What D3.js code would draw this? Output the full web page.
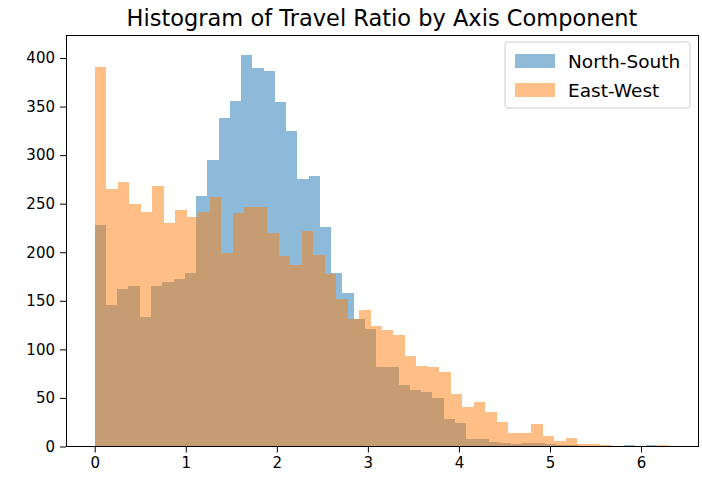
<!DOCTYPE html>
<html>
<head>
<meta charset="utf-8">
<script src="https://cdn.jsdelivr.net/npm/d3@7"></script>
<style>
  html, body { margin: 0; padding: 0; background: #ffffff; }
  svg { display: block; }
  text { font-family: "DejaVu Sans", sans-serif; fill: #000; }
</style>
</head>
<body>
<svg id="chart" width="702" height="477"></svg>
<script>
// Counts per bin (50 equal-width bins from 0 to each series' maximum)
const northSouthCounts = [
  228, 146, 162, 165, 133, 165, 169, 172, 179, 258,
  295, 338, 356, 403, 390, 387, 355, 325, 275, 279,
  226, 179, 158, 131, 121, 82, 82, 63, 58, 56,
  50, 28, 24, 8, 8, 5, 4, 3, 4, 4,
  3, 2, 2, 1, 1, 0, 0, 2, 0, 2
];
const eastWestCounts = [
  391, 265, 272, 250, 241, 268, 230, 243, 236, 241,
  257, 199, 240, 247, 247, 220, 196, 187, 222, 197,
  178, 152, 131, 141, 124, 120, 115, 93, 83, 82,
  77, 54, 41, 46, 36, 25, 14, 14, 23, 11,
  6, 9, 3, 3, 2, 1, 0, 0, 0, 2
];
const northSouthRange = [0, 6.18];
const eastWestRange = [0, 6.31];
const seriesNames = ["North-South", "East-West"];
const seriesColors = ["#1f77b4", "#ff7f0e"];
const xTicks = [0, 1, 2, 3, 4, 5, 6];
const yTicks = [0, 50, 100, 150, 200, 250, 300, 350, 400];
const titleText = "Histogram of Travel Ratio by Axis Component";

const svg = d3.select("#chart");
const plot = { left: 66, right: 698, top: 35.5, bottom: 446.5 };

// x limits with 5% margins around the data span, y from 0 to 5% above the tallest bar
const dataMax = Math.max(northSouthRange[1], eastWestRange[1]);
const xPad = 0.05 * dataMax;
const x = d3.scaleLinear().domain([-xPad, dataMax + xPad]).range([plot.left, plot.right]);
const yMax = 1.05 * d3.max([...northSouthCounts, ...eastWestCounts]);
const y = d3.scaleLinear().domain([0, yMax]).range([plot.bottom, plot.top]);

function toBins(counts, range) {
  const w = (range[1] - range[0]) / counts.length;
  return counts.map((c, i) => ({ x0: range[0] + i * w, x1: range[0] + (i + 1) * w, count: c }));
}

const series = [
  toBins(northSouthCounts, northSouthRange),
  toBins(eastWestCounts, eastWestRange)
];

// Bars: each series in its own half-transparent group
series.forEach((bins, si) => {
  svg.append("g")
    .attr("opacity", 0.5)
    .selectAll("rect")
    .data(bins.filter(b => b.count > 0))
    .join("rect")
    .attr("x", d => x(d.x0))
    .attr("width", d => x(d.x1) - x(d.x0))
    .attr("y", d => y(d.count))
    .attr("height", d => y(0) - y(d.count))
    .attr("fill", seriesColors[si])
    .attr("shape-rendering", "crispEdges");
});

// Axes
const xAxis = d3.axisBottom(x).tickValues(xTicks).tickFormat(d3.format("d")).tickSizeOuter(0).tickSize(6).tickPadding(5);
const yAxis = d3.axisLeft(y).tickValues(yTicks).tickFormat(d3.format("d")).tickSizeOuter(0).tickSize(6).tickPadding(5);

const gx = svg.append("g").attr("transform", `translate(0,${plot.bottom})`).call(xAxis);
const gy = svg.append("g").attr("transform", `translate(${plot.left},0)`).call(yAxis);
[gx, gy].forEach(g => {
  g.select(".domain").remove();
  g.selectAll(".tick line").attr("stroke", "#000").attr("stroke-width", 1);
  g.selectAll(".tick text").attr("font-family", "DejaVu Sans, sans-serif").attr("font-size", 15).attr("fill", "#000");
});

// Frame
svg.append("rect")
  .attr("x", plot.left).attr("y", plot.top)
  .attr("width", plot.right - plot.left).attr("height", plot.bottom - plot.top)
  .attr("fill", "none").attr("stroke", "#000").attr("stroke-width", 1)
  .attr("shape-rendering", "crispEdges");

// Title
svg.append("text")
  .attr("x", (plot.left + plot.right) / 2)
  .attr("y", 26)
  .attr("text-anchor", "middle")
  .attr("font-size", 22.5)
  .text(titleText);

// Legend
const legend = svg.append("g").attr("transform", "translate(505,42)");
legend.append("rect")
  .attr("width", 185).attr("height", 66).attr("rx", 3)
  .attr("fill", "#fff").attr("fill-opacity", 0.8)
  .attr("stroke", "#cccccc").attr("stroke-width", 1);
seriesNames.forEach((name, i) => {
  const row = legend.append("g").attr("transform", `translate(0,${12 + i * 29})`);
  row.append("rect")
    .attr("x", 10).attr("width", 40).attr("height", 14)
    .attr("fill", seriesColors[i]).attr("fill-opacity", 0.5);
  row.append("text")
    .attr("x", 63).attr("y", 14)
    .attr("font-size", 18.5)
    .text(name);
});
</script>
</body>
</html>
